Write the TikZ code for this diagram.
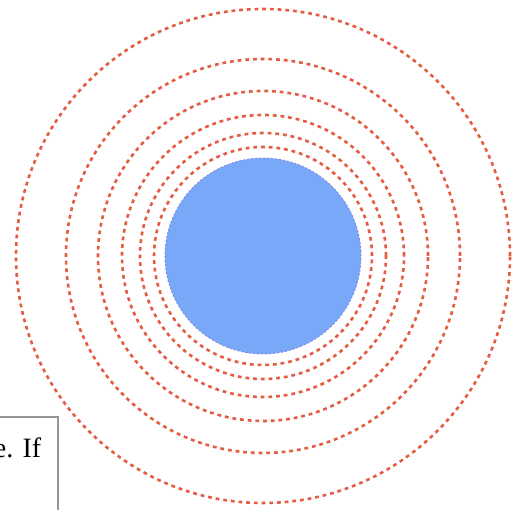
\documentclass[tikz,border=0pt]{standalone}
\usepackage{fontspec}
\setmainfont{Liberation Serif}
\definecolor{ringred}{RGB}{228,92,66}
\definecolor{discblue}{RGB}{122,168,248}
\definecolor{discedge}{RGB}{128,132,222}
\definecolor{boxgray}{RGB}{150,150,150}
\begin{document}
\begin{tikzpicture}[x=1pt,y=1pt,
  ring/.style={draw=ringred, line width=2.6pt, dash pattern=on 3.8pt off 3.9pt},
  disc/.style={fill=discblue},
  discline/.style={draw=discedge, line width=0.8pt, dash pattern=on 2pt off 2pt},
  framebox/.style={draw=boxgray, line width=2pt},
  snippet/.style={font=\fontsize{28}{32}\selectfont, inner sep=0pt, anchor=base east}]
\useasboundingbox (0,0) rectangle (524,510);
\clip (0,0) rectangle (524,510);
\coordinate (c) at (263,254);
\foreach \r in {247,197,165,141,123,109}
  \draw[ring] (c) circle[radius=\r pt];
\fill[disc] (c) circle[radius=98pt];
\draw[discline] (c) circle[radius=98pt];
\draw[framebox] (-10,-10) rectangle (58,93);
\node[snippet] (txt) at (41.5,52) {e. If};
\end{tikzpicture}
\end{document}
